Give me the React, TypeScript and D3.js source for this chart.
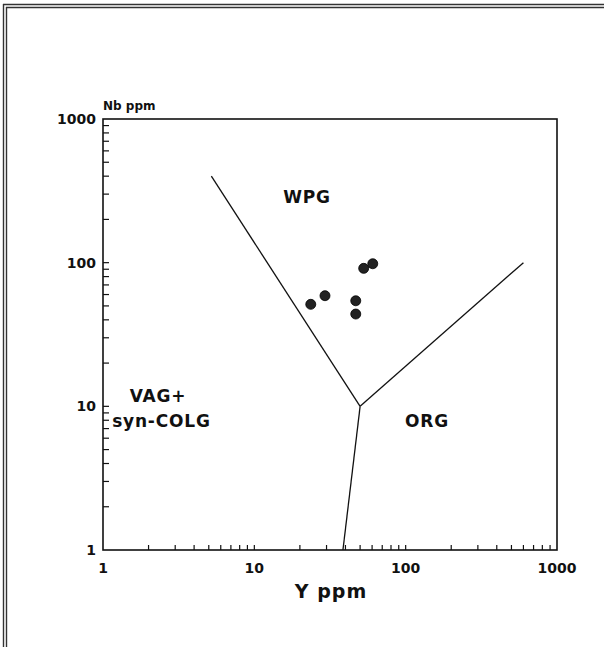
import React from "react";
import * as d3 from "d3";

const W = 604;
const H = 647;

// Sample data (Y ppm, Nb ppm)
const sampleY = [23.6, 29.3, 46.8, 46.8, 52.8, 60.6];
const sampleNb = [51.3, 58.9, 54.3, 43.9, 91.3, 98.3];

// Discrimination boundaries (Y, Nb)
const junction: [number, number] = [50, 10];
const boundaryEnds: [number, number][] = [
  [5.2, 400],
  [600, 100],
  [38.5, 1],
];

const majorTicks = [1, 10, 100, 1000];
const majorLabels = ["1", "10", "100", "1000"];

const regionText = ["WPG", "VAG+", "syn-COLG", "ORG"];
const regionY = [15.5, 1.5, 1.15, 99];
const regionNb = [260, 10.7, 7.2, 7.2];

export default function App() {
  const x = d3.scaleLog().domain([1, 1000]).range([103, 557]);
  const y = d3.scaleLog().domain([1, 1000]).range([550, 119]);

  const minor: number[] = [];
  for (let d = 1; d < 1000; d *= 10) {
    for (let k = 2; k <= 9; k++) minor.push(d * k);
  }
  minor.push(10, 100);

  const font = "'DejaVu Sans', Verdana, sans-serif";
  const ink = "#111";

  return (
    <svg
      width={W}
      height={H}
      style={{ position: "absolute", left: 0, top: 0, display: "block", background: "#fff" }}
    >
      {/* page frame */}
      <g stroke="#333" strokeWidth={1.4} fill="none">
        <line x1={3.5} y1={4} x2={3.5} y2={H} />
        <line x1={6.5} y1={7} x2={6.5} y2={H} />
        <line x1={3} y1={4.5} x2={W} y2={4.5} />
        <line x1={6} y1={7.5} x2={W} y2={7.5} />
      </g>

      {/* plot frame */}
      <rect
        x={x(1)}
        y={y(1000)}
        width={x(1000) - x(1)}
        height={y(1) - y(1000)}
        fill="none"
        stroke={ink}
        strokeWidth={1.6}
      />

      {/* ticks */}
      <g stroke={ink} strokeWidth={1.2}>
        {minor.map((v, i) => (
          <line key={"xt" + i} x1={x(v)} x2={x(v)} y1={y(1)} y2={y(1) - 5} />
        ))}
        {minor.map((v, i) => (
          <line key={"yt" + i} x1={x(1)} x2={x(1) + 6} y1={y(v)} y2={y(v)} />
        ))}
      </g>

      {/* tick labels */}
      <g fontFamily={font} fontWeight="bold" fontSize={14} fill={ink}>
        {majorTicks.map((v, i) => (
          <text key={"xl" + i} x={x(v)} y={573} textAnchor="middle">
            {majorLabels[i]}
          </text>
        ))}
        {majorTicks.map((v, i) => (
          <text key={"yl" + i} x={96} y={y(v) + 5} textAnchor="end">
            {majorLabels[i]}
          </text>
        ))}
      </g>

      {/* axis titles */}
      <text x={103} y={110} fontFamily={font} fontWeight="bold" fontSize={12} fill={ink}>
        Nb ppm
      </text>
      <text x={331} y={598} textAnchor="middle" fontFamily={font} fontWeight="bold" fontSize={19} fill={ink} letterSpacing={1}>
        Y ppm
      </text>

      {/* boundaries */}
      <g stroke={ink} strokeWidth={1.3} fill="none">
        {boundaryEnds.map((e, i) => (
          <line key={"b" + i} x1={x(junction[0])} y1={y(junction[1])} x2={x(e[0])} y2={y(e[1])} />
        ))}
      </g>

      {/* region labels */}
      <g fontFamily={font} fontWeight="bold" fontSize={17} fill={ink} letterSpacing={0.8}>
        {regionText.map((t, i) => (
          <text key={"r" + i} x={x(regionY[i])} y={y(regionNb[i])}>
            {t}
          </text>
        ))}
      </g>

      {/* samples */}
      <g>
        {sampleY.map((v, i) => (
          <circle key={"p" + i} cx={x(v)} cy={y(sampleNb[i])} r={5} fill="#222" stroke="#000" strokeWidth={0.8} />
        ))}
      </g>
    </svg>
  );
}
